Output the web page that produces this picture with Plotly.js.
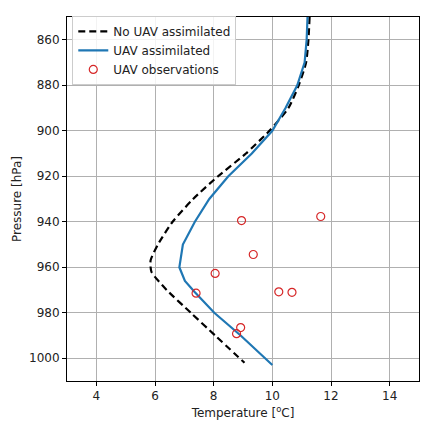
<!DOCTYPE html>
<html><head><meta charset="utf-8">
<script src="https://cdn.plot.ly/plotly-3.0.1.min.js"></script>
<style>html,body{margin:0;padding:0;background:#fff}#chart{width:422px;height:430px}</style>
</head><body><div id="chart"></div>
<script>
// No UAV assimilated (black dashed)
const noUavP = [850, 860, 870, 880, 890, 900, 910, 920, 930, 940, 950, 957, 962, 970, 980, 990, 1002];
const noUavT = [11.27, 11.23, 11.15, 10.9, 10.55, 9.9, 9.1, 8.15, 7.3, 6.6, 6.1, 5.85, 5.88, 6.4, 7.22, 8.05, 9.05];
// UAV assimilated (blue)
const uavP = [850, 860, 870, 880, 890, 900, 910, 920, 930, 940, 950, 960, 966, 971, 980, 990, 1003];
const uavT = [11.2, 11.17, 11.1, 10.85, 10.45, 10.0, 9.3, 8.5, 7.85, 7.36, 6.95, 6.83, 7.02, 7.36, 8.02, 8.92, 10.0];
// UAV observations
const obsT = [8.95, 11.65, 9.35, 8.05, 7.4, 10.22, 10.67, 8.92, 8.78];
const obsP = [939.5, 937.7, 954.4, 962.7, 971.4, 970.8, 971.0, 986.5, 989.2];

const traces = [
  {x: noUavT, y: noUavP, mode: 'lines', name: 'No UAV assimilated', line: {color: '#000', width: 2.2, dash: '7px,4px', shape: 'spline', smoothing: 0.6}},
  {x: uavT, y: uavP, mode: 'lines', name: 'UAV assimilated', line: {color: '#1f77b4', width: 2.2}},
  {x: obsT, y: obsP, mode: 'markers', name: 'UAV observations', marker: {symbol: 'circle-open', size: 8, color: '#d62728', line: {width: 1.2, color: '#d62728'}}}
];
const axisCommon = {showline: true, mirror: true, linecolor: '#000', linewidth: 1, showgrid: true, gridcolor: '#b0b0b0', gridwidth: 1,
  ticks: 'outside', ticklen: 4, tickcolor: '#000', zeroline: false, tickfont: {family: 'DejaVu Sans', size: 12, color: '#222'}};
const layout = {
  width: 422, height: 430,
  margin: {l: 67, r: 3, t: 17, b: 49},
  paper_bgcolor: '#fff', plot_bgcolor: '#fff',
  font: {family: 'DejaVu Sans', size: 12, color: '#222'},
  xaxis: Object.assign({}, axisCommon, {range: [3, 15], tickvals: [4, 6, 8, 10, 12, 14], title: {text: 'Temperature [<sup>o</sup>C]', standoff: 6, font: {size: 12}}}),
  yaxis: Object.assign({}, axisCommon, {range: [1010, 850], tickvals: [860, 880, 900, 920, 940, 960, 980, 1000], title: {text: 'Pressure [hPa]', standoff: 4, font: {size: 12}}}),
  legend: {x: 0.015, y: 1.003, xanchor: 'left', yanchor: 'top', bgcolor: 'rgba(255,255,255,0.85)', bordercolor: '#ccc', borderwidth: 1,
    font: {family: 'DejaVu Sans', size: 12, color: '#222'}, itemwidth: 30, tracegroupgap: 0},
  showlegend: true
};
Plotly.newPlot('chart', traces, layout, {displayModeBar: false, staticPlot: true});
</script></body></html>
